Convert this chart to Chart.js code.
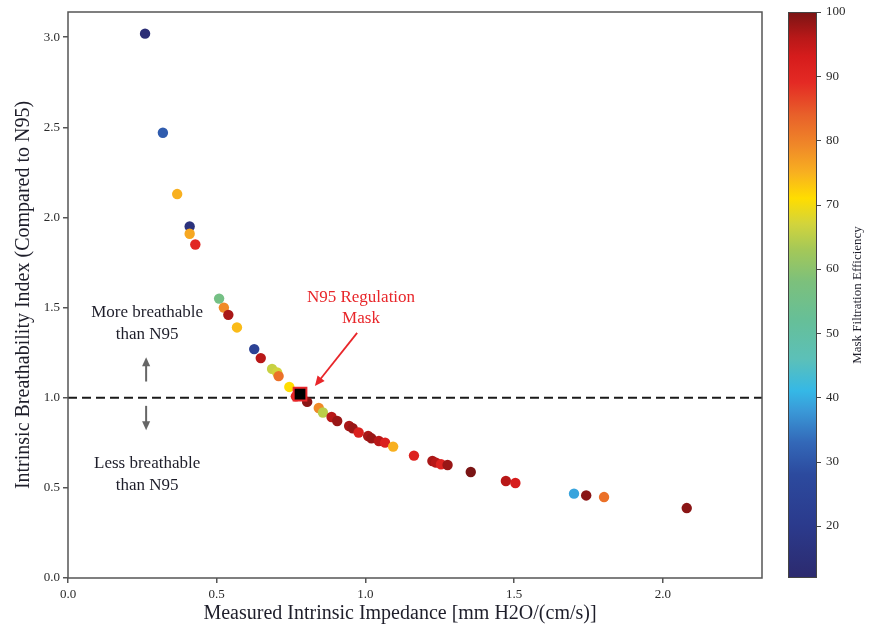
<!DOCTYPE html>
<html>
<head>
<meta charset="utf-8">
<script src="https://cdn.jsdelivr.net/npm/chart.js@4.4.1/dist/chart.umd.min.js"></script>
<style>
  html, body { margin: 0; padding: 0; background: #fff; }
  #wrap { width: 877px; height: 628px; }
</style>
</head>
<body>
<div id="wrap"><canvas id="chart" width="877" height="628"></canvas></div>
<script>
// ─── Data ─────────────────────────────────────────────
const impedance = [
  0.259, 0.319, 0.367, 0.409, 0.409, 0.428, 0.508, 0.524, 0.539, 0.568,
  0.626, 0.648, 0.686, 0.703, 0.708, 0.744, 0.766, 0.804, 0.843, 0.857,
  0.886, 0.905, 0.945, 0.957, 0.977, 1.009, 1.020, 1.045, 1.066, 1.093,
  1.163, 1.225, 1.237, 1.254, 1.276, 1.354, 1.472, 1.504, 1.701, 1.742,
  1.802, 2.080
];
const breathability = [
  3.02, 2.47, 2.13, 1.95, 1.91, 1.85, 1.55, 1.50, 1.46, 1.39,
  1.27, 1.22, 1.16, 1.14, 1.12, 1.06, 1.008, 0.977, 0.943, 0.918,
  0.893, 0.871, 0.843, 0.831, 0.807, 0.788, 0.775, 0.760, 0.751, 0.729,
  0.679, 0.649, 0.640, 0.631, 0.627, 0.588, 0.538, 0.527, 0.468, 0.458,
  0.449, 0.388
];
const efficiency = [
  14, 31, 75, 16, 76, 90, 56, 79, 97, 74,
  24, 96, 66, 67, 82, 71, 90, 99, 79, 65,
  96, 98, 97, 98, 92, 97, 98, 96, 92, 75,
  91, 97, 96, 91, 98, 100, 96, 93, 39, 99,
  82, 99
];

// N95 regulation mask
const n95Impedance = [0.78];
const n95Breathability = [1.02];

const referenceLevel = 1.0;
const xTicks = [0, 0.5, 1.0, 1.5, 2.0];
const yTicks = [0, 0.5, 1.0, 1.5, 2.0, 2.5, 3.0];
const cbTicks = [20, 30, 40, 50, 60, 70, 80, 90, 100];
const cbMin = 11.9;
const cbMax = 100;

// ─── Colour map ───────────────────────────────────────
const cmapStops = [
  [11.9, '#2c2a6e'], [20, '#2b3a8c'], [28, '#2c4a9e'], [33, '#3368b8'],
  [38, '#3a9ad8'], [41, '#35b8e6'], [46, '#5cc0b8'], [52, '#66bf98'],
  [58, '#7cc07c'], [63, '#a4c858'], [67, '#d2d43c'], [71, '#ffdd00'],
  [75, '#f8b020'], [79, '#f08a28'], [84, '#e8602a'], [89, '#e42a24'],
  [93, '#d61c1c'], [96, '#b81818'], [100, '#7a1414']
];

function hexToRgb(h) {
  const n = parseInt(h.slice(1), 16);
  return [(n >> 16) & 255, (n >> 8) & 255, n & 255];
}

function cmap(v) {
  if (v <= cmapStops[0][0]) return cmapStops[0][1];
  for (let i = 1; i < cmapStops.length; i++) {
    const [v1, c1] = cmapStops[i];
    if (v <= v1) {
      const [v0, c0] = cmapStops[i - 1];
      const t = (v - v0) / (v1 - v0);
      const a = hexToRgb(c0), b = hexToRgb(c1);
      const c = a.map((x, k) => Math.round(x + (b[k] - x) * t));
      return `rgb(${c[0]},${c[1]},${c[2]})`;
    }
  }
  return cmapStops[cmapStops.length - 1][1];
}

// ─── Helpers ──────────────────────────────────────────
const SERIF = '"Liberation Serif", "DejaVu Serif", serif';
const TEXT = '#1e1e2a';

function drawArrow(ctx, x1, y1, x2, y2, color, width, head) {
  const ang = Math.atan2(y2 - y1, x2 - x1);
  ctx.save();
  ctx.strokeStyle = color;
  ctx.fillStyle = color;
  ctx.lineWidth = width;
  ctx.beginPath();
  ctx.moveTo(x1, y1);
  ctx.lineTo(x2 - Math.cos(ang) * head * 0.8, y2 - Math.sin(ang) * head * 0.8);
  ctx.stroke();
  ctx.beginPath();
  ctx.moveTo(x2, y2);
  ctx.lineTo(x2 - head * Math.cos(ang) + head * 0.45 * Math.sin(ang),
             y2 - head * Math.sin(ang) - head * 0.45 * Math.cos(ang));
  ctx.lineTo(x2 - head * Math.cos(ang) - head * 0.45 * Math.sin(ang),
             y2 - head * Math.sin(ang) + head * 0.45 * Math.cos(ang));
  ctx.closePath();
  ctx.fill();
  ctx.restore();
}

function drawLines(ctx, lines, x, y, gap) {
  lines.forEach((t, i) => ctx.fillText(t, x, y + i * gap));
}

// ─── Overlay plugin ───────────────────────────────────
const overlay = {
  id: 'overlay',
  beforeDatasetsDraw(chart) {
    const { ctx, chartArea: a, scales: { y } } = chart;
    const py = y.getPixelForValue(referenceLevel);
    ctx.save();
    ctx.strokeStyle = '#1a1a1a';
    ctx.lineWidth = 2;
    ctx.setLineDash([9, 5]);
    ctx.beginPath();
    ctx.moveTo(a.left, py);
    ctx.lineTo(a.right, py);
    ctx.stroke();
    ctx.restore();
  },
  afterDraw(chart) {
    const { ctx, chartArea: a, scales: { x, y, cb } } = chart;
    ctx.save();

    // plot frame
    ctx.strokeStyle = '#555';
    ctx.lineWidth = 1.5;
    ctx.strokeRect(a.left, a.top, a.right - a.left, a.bottom - a.top);

    // colour bar
    const bx0 = cb.left + 26, bx1 = cb.left + 55;
    const yTop = cb.getPixelForValue(cbMax), yBot = cb.getPixelForValue(cbMin);
    const grad = ctx.createLinearGradient(0, yBot, 0, yTop);
    cmapStops.forEach(([v, c]) => grad.addColorStop((v - cbMin) / (cbMax - cbMin), c));
    ctx.fillStyle = grad;
    ctx.fillRect(bx0, yTop, bx1 - bx0, yBot - yTop);
    ctx.strokeStyle = '#444';
    ctx.lineWidth = 1;
    ctx.strokeRect(bx0 + 0.5, yTop + 0.5, bx1 - bx0 - 1, yBot - yTop - 1);
    ctx.beginPath();
    cb.ticks.forEach(t => {
      const ty = Math.round(cb.getPixelForValue(t.value)) + 0.5;
      ctx.moveTo(bx1, ty);
      ctx.lineTo(bx1 + 4, ty);
    });
    ctx.stroke();

    // colour bar title
    ctx.fillStyle = TEXT;
    ctx.font = `13px ${SERIF}`;
    ctx.textAlign = 'center';
    ctx.textBaseline = 'middle';
    ctx.save();
    ctx.translate(cb.left + 96, (yTop + yBot) / 2);
    ctx.rotate(-Math.PI / 2);
    ctx.fillText('Mask Filtration Efficiency', 0, 0);
    ctx.restore();

    // axis titles
    ctx.font = `20px ${SERIF}`;
    ctx.fillText('Measured Intrinsic Impedance [mm H2O/(cm/s)]', 400, 614);
    ctx.save();
    ctx.translate(24, (a.top + a.bottom) / 2);
    ctx.rotate(-Math.PI / 2);
    ctx.fillText('Intrinsic Breathability Index (Compared to N95)', 0, 0);
    ctx.restore();

    // breathability annotations
    ctx.font = `17px ${SERIF}`;
    const ax = x.getPixelForValue(0.266);
    drawLines(ctx, ['More breathable', 'than N95'], ax, y.getPixelForValue(1.475), 22);
    drawLines(ctx, ['Less breathable', 'than N95'], ax, y.getPixelForValue(0.637), 22);
    drawArrow(ctx, ax - 1, y.getPixelForValue(1.09), ax - 1, y.getPixelForValue(1.225), '#666', 2, 9);
    drawArrow(ctx, ax - 1, y.getPixelForValue(0.955), ax - 1, y.getPixelForValue(0.82), '#666', 2, 9);

    // N95 label
    ctx.fillStyle = '#e8262a';
    drawLines(ctx, ['N95 Regulation', 'Mask'], x.getPixelForValue(0.985), y.getPixelForValue(1.555), 21);
    drawArrow(ctx, x.getPixelForValue(0.972), y.getPixelForValue(1.36),
              x.getPixelForValue(0.83), y.getPixelForValue(1.065), '#e8262a', 1.8, 10);

    ctx.restore();
  }
};

// ─── Chart ────────────────────────────────────────────
Chart.defaults.font.family = SERIF;

const points = impedance.map((v, i) => ({ x: v, y: breathability[i] }));
const n95 = n95Impedance.map((v, i) => ({ x: v, y: n95Breathability[i] }));

const tickFmt = v => Number(v).toFixed(1);
const tickStyle = { font: { size: 13 }, color: '#2a2a2a' };

new Chart(document.getElementById('chart'), {
  type: 'scatter',
  data: {
    datasets: [
      {
        label: 'Masks',
        data: points,
        order: 1,
        pointRadius: 5.2,
        pointBorderWidth: 0,
        pointBackgroundColor: efficiency.map(cmap),
      },
      {
        label: 'N95',
        data: n95,
        order: 0,
        pointStyle: 'rect',
        pointRadius: 9,
        pointBorderWidth: 2,
        pointBorderColor: '#e8262a',
        pointBackgroundColor: '#000',
      },
    ],
  },
  options: {
    responsive: false,
    animation: false,
    events: [],
    layout: { padding: { top: 12, right: 0, left: 0, bottom: 0 } },
    plugins: { legend: { display: false }, tooltip: { enabled: false } },
    scales: {
      x: {
        type: 'linear', min: 0, max: 2.333,
        afterBuildTicks: s => { s.ticks = xTicks.map(v => ({ value: v })); },
        afterFit: s => { s.height = 50; s.paddingLeft = 0; s.paddingRight = 0; },
        ticks: { ...tickStyle, padding: 4, callback: tickFmt, maxRotation: 0 },
        grid: { drawOnChartArea: false, tickLength: 5, color: '#555', lineWidth: 1.5 },
        border: { display: false },
      },
      y: {
        type: 'linear', min: 0, max: 3.14,
        afterBuildTicks: s => { s.ticks = yTicks.map(v => ({ value: v })); },
        afterFit: s => { s.width = 68; s.paddingTop = 0; s.paddingBottom = 0; },
        ticks: { ...tickStyle, padding: 3, callback: tickFmt },
        grid: { drawOnChartArea: false, tickLength: 5, color: '#555', lineWidth: 1.5 },
        border: { display: false },
      },
      cb: {
        type: 'linear', position: 'right', min: cbMin, max: cbMax,
        afterBuildTicks: s => { s.ticks = cbTicks.map(v => ({ value: v })); },
        afterFit: s => { s.width = 115; s.paddingTop = 0; s.paddingBottom = 0; },
        ticks: { ...tickStyle, padding: 64, crossAlign: 'near' },
        grid: { display: false, drawTicks: false },
        border: { display: false },
      },
    },
  },
  plugins: [overlay],
});
</script>
</body>
</html>
